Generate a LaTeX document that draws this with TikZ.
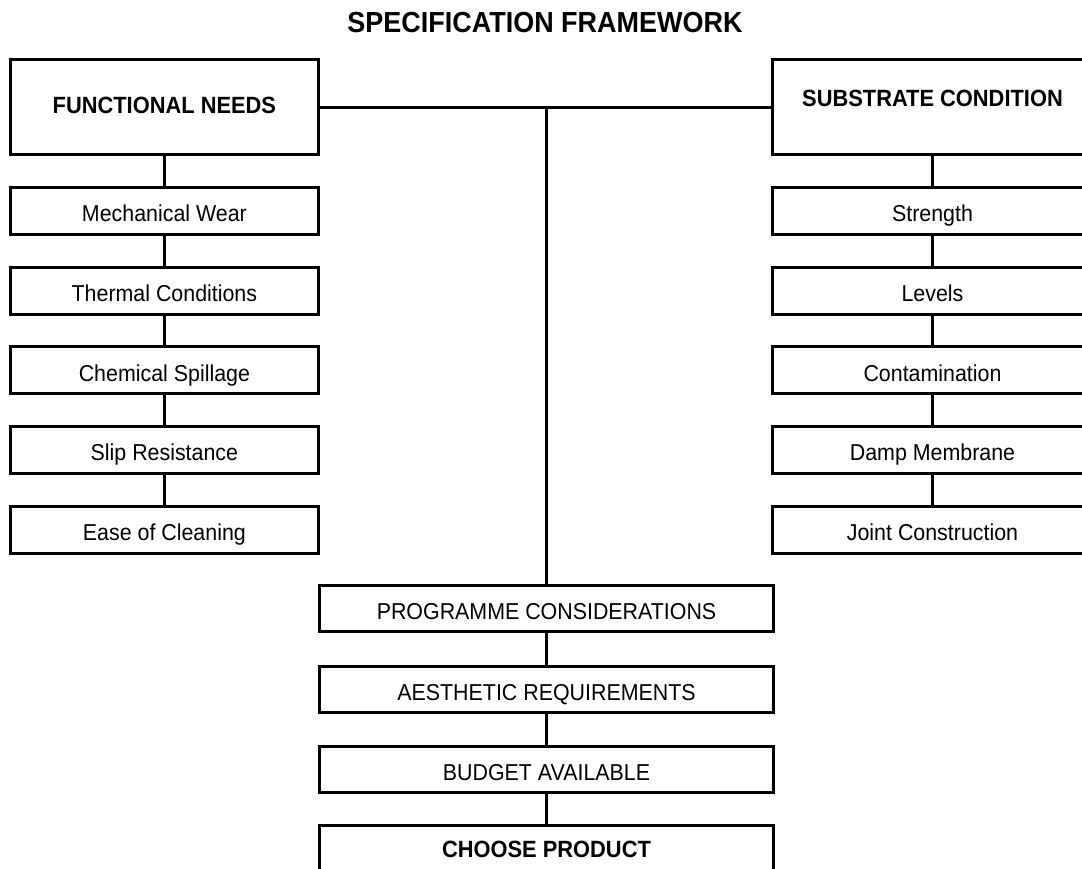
\documentclass[tikz,border=0pt]{standalone}
\usepackage{fontspec}
\setmainfont{Liberation Sans}[FakeStretch=0.93]
\begin{document}
\begin{tikzpicture}[x=1pt,y=-1pt,
  link/.style={line width=3pt},
  box/.style={draw, line width=3pt, inner sep=0pt, minimum height=47pt,
    font=\fontsize{23}{23}\selectfont, text height=21.5pt, text depth=0pt},
  sidebox/.style={box, minimum width=308pt},
  rbox/.style={box, minimum width=320pt},
  midbox/.style={box, minimum width=454pt, minimum height=46.5pt},
  head/.style={draw, line width=3pt, inner sep=0pt, minimum height=95pt,
    font=\fontsize{23.5}{23.5}\selectfont\bfseries, text height=17pt}]
\useasboundingbox (0,0) rectangle (1082,869);
\clip (0,0) rectangle (1082,869);

\node[inner sep=0pt, font=\fontsize{29}{29}\selectfont\bfseries] (title) at (545,23) {SPECIFICATION FRAMEWORK};

\node[head, minimum width=308pt, text depth=4pt] (fn) at (164.4,107.2) {FUNCTIONAL NEEDS};
\node[head, minimum width=320pt, text depth=18pt] (sc) at (932.5,107.2) {SUBSTRATE CONDITION};

\node[sidebox] (l1) at (164.4,211.0) {Mechanical Wear};
\node[sidebox] (l2) at (164.4,290.7) {Thermal Conditions};
\node[sidebox] (l3) at (164.4,370.4) {Chemical Spillage};
\node[sidebox] (l4) at (164.4,450.1) {Slip Resistance};
\node[sidebox] (l5) at (164.4,529.8) {Ease of Cleaning};

\node[rbox] (r1) at (932.5,211.0) {Strength};
\node[rbox] (r2) at (932.5,290.7) {Levels};
\node[rbox] (r3) at (932.5,370.4) {Contamination};
\node[rbox] (r4) at (932.5,450.1) {Damp Membrane};
\node[rbox] (r5) at (932.5,529.8) {Joint Construction};

\node[midbox] (m1) at (546.5,608.7) {PROGRAMME CONSIDERATIONS};
\node[midbox] (m2) at (546.5,689.7) {AESTHETIC REQUIREMENTS};
\node[midbox] (m3) at (546.5,769.3) {BUDGET AVAILABLE};
\node[midbox, font=\fontsize{23.5}{23.5}\selectfont\bfseries, text height=17pt] (m4) at (546.5,849.2) {CHOOSE PRODUCT};

\coordinate (hub) at (546.5,107.2);

\draw[link] (fn.east) -- (sc.west);
\draw[link] (hub) -- (m1.north);

\draw[link] (fn.south) -- (l1.north);
\draw[link] (l1.south) -- (l2.north);
\draw[link] (l2.south) -- (l3.north);
\draw[link] (l3.south) -- (l4.north);
\draw[link] (l4.south) -- (l5.north);

\draw[link] (sc.south) -- (r1.north);
\draw[link] (r1.south) -- (r2.north);
\draw[link] (r2.south) -- (r3.north);
\draw[link] (r3.south) -- (r4.north);
\draw[link] (r4.south) -- (r5.north);

\draw[link] (m1.south) -- (m2.north);
\draw[link] (m2.south) -- (m3.north);
\draw[link] (m3.south) -- (m4.north);
\end{tikzpicture}
\end{document}
